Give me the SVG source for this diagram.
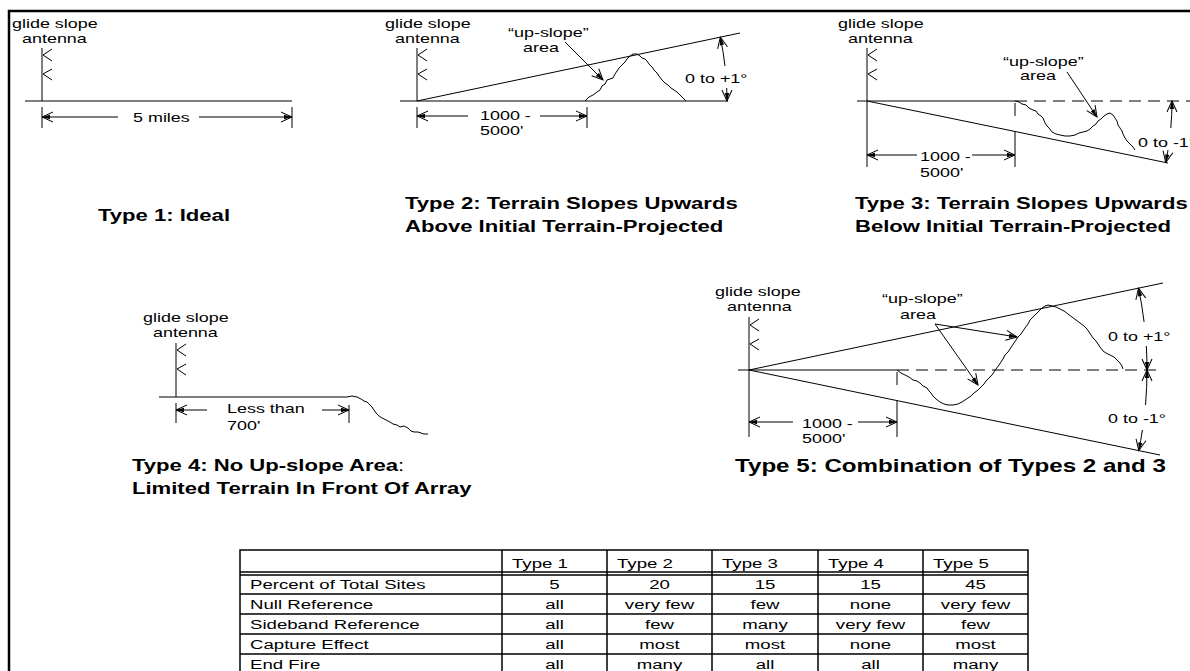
<svg xmlns="http://www.w3.org/2000/svg" width="1190" height="671" viewBox="0 0 1190 671">
<style>
.ln{stroke:#000;stroke-width:1;fill:none}
.fr{stroke:#000;stroke-width:2.5;fill:none}
.tb{stroke:#000;stroke-width:1.5;fill:none}
.ds{stroke-dasharray:12 7}
.t{font-family:"Liberation Sans",Arial,Helvetica,sans-serif;font-size:13px;fill:#000}
.tt{font-family:"Liberation Sans",Arial,Helvetica,sans-serif;font-size:13.5px;fill:#000}
.b{font-family:"Liberation Sans",Arial,Helvetica,sans-serif;font-size:16px;font-weight:bold;fill:#000}
.m{text-anchor:middle}
.ar{stroke:#000;stroke-width:1;fill:none;marker-end:url(#ah)}
.dim{stroke:#000;stroke-width:1;fill:none}
</style>
<defs>
<marker id="ah" markerUnits="userSpaceOnUse" orient="auto-start-reverse" overflow="visible" refX="0" refY="0" markerWidth="1" markerHeight="1">
<path d="M-11,-5 L0,0 L-11,5" fill="none" stroke="#000" stroke-width="1"/>
<path d="M0,0 L-8,-2.2 L-8,2.2 Z" fill="#000"/>
</marker>
<path id="chev" d="M10,1 L1,7 L10,13 M10,21 L1,26 L10,32" fill="none" stroke="#000" stroke-width="1"/>
</defs>
<rect width="1190" height="671" fill="#fff"/>
<g id="frame">
<path class="fr" d="M9,671 V11 H1190"/>
</g>

<g id="type1">
<text class="t" transform="translate(12 28) scale(1.38 1)">glide slope</text>
<text class="t" transform="translate(22 43) scale(1.38 1)">antenna</text>
<path class="ln" d="M42,48 V101 M25,101 H292 M42,107 V128 M292,107 V128"/>
<use href="#chev" x="42" y="48"/>
<path class="dim" d="M42,117 H118" marker-start="url(#ah)"/>
<path class="dim" d="M199,117 H292" marker-end="url(#ah)"/>
<text class="t" transform="translate(133 122) scale(1.38 1)">5 miles</text>
<text class="b" transform="translate(98 221) scale(1.38 1)">Type 1: Ideal</text>
</g>

<g id="type2">
<text class="t" transform="translate(385 28) scale(1.38 1)">glide slope</text>
<text class="t" transform="translate(395 43) scale(1.38 1)">antenna</text>
<path class="ln" d="M417,48 V101 M400,101 H728 M417,101 L740,33 M417,107 V128 M587,107 V128"/>
<use href="#chev" x="417" y="48"/>
<path class="ln" d="M585,101 L589,97 L593,95 L597,92 L600,90 L602,86 L605,84 L607,80 L610,79 L613,78 L615,74 L617,71 L619,68 L622,65 L625,62 L627,59 L630,56 L633,54 L637,54 L640,56 L642,58 L645,59 L647,61 L649,64 L652,67 L654,70 L657,73 L659,76 L662,80 L665,83 L668,85 L671,88 L674,90 L677,92 L680,95 L682,97 L684,99 L686,101"/>
<text class="t" transform="translate(508 37) scale(1.38 1)">“up-slope”</text>
<text class="t" transform="translate(523 52) scale(1.38 1)">area</text>
<text class="t" transform="translate(685 83) scale(1.38 1)">0 to +1°</text>
<path class="dim" d="M417,116 H468" marker-start="url(#ah)"/>
<path class="dim" d="M540,116 H587" marker-end="url(#ah)"/>
<text class="t" transform="translate(480 120) scale(1.38 1)">1000 -</text>
<text class="t" transform="translate(480 135) scale(1.38 1)">5000'</text>
<text class="b" transform="translate(405 209) scale(1.38 1)">Type 2: Terrain Slopes Upwards</text>
<text class="b" transform="translate(405 232) scale(1.38 1)">Above Initial Terrain-Projected</text>
</g>

<g id="type3">
<text class="t" transform="translate(838 28) scale(1.38 1)">glide slope</text>
<text class="t" transform="translate(848 43) scale(1.38 1)">antenna</text>
<path class="ln" d="M867,48 V167 M857,101 H1015 M867,101 L1168,163"/>
<path class="ln ds" d="M1015,101 H1190"/>
<path class="ln" d="M1015,103 V116 M1015,132 V167"/>
<use href="#chev" x="867" y="48"/>
<path class="ln" d="M1015,101 L1019,102 L1022,104 L1026,105 L1029,108 L1033,110 L1036,111 L1038,114 L1041,116 L1043,118 L1045,123 L1047,126 L1049,128 L1052,132 L1056,134 L1060,135 L1065,136 L1070,136 L1075,135 L1079,133 L1083,132 L1087,131 L1090,129 L1093,126 L1096,124 L1098,121 L1101,119 L1104,116 L1107,114 L1110,113 L1113,115 L1115,118 L1117,121 L1118,125 L1120,128 L1122,131 L1123,134 L1125,138 L1127,141 L1130,144 L1133,147 L1135,150"/>
<text class="t" transform="translate(1003 66) scale(1.38 1)">“up-slope”</text>
<text class="t" transform="translate(1020 80) scale(1.38 1)">area</text>
<text class="t" transform="translate(1138 147) scale(1.38 1)">0 to -1°</text>
<path class="dim" d="M867,155 H917" marker-start="url(#ah)"/>
<path class="dim" d="M972,155 H1015" marker-end="url(#ah)"/>
<text class="t" transform="translate(920 161) scale(1.38 1)">1000 -</text>
<text class="t" transform="translate(920 177) scale(1.38 1)">5000'</text>
<text class="b" transform="translate(855 209) scale(1.38 1)">Type 3: Terrain Slopes Upwards</text>
<text class="b" transform="translate(855 232) scale(1.38 1)">Below Initial Terrain-Projected</text>
</g>

<g id="type4">
<text class="t" transform="translate(143 322) scale(1.38 1)">glide slope</text>
<text class="t" transform="translate(153 337) scale(1.38 1)">antenna</text>
<path class="ln" d="M176,343 V397 M159,397 H347 M176,403 V423 M349,405 V423"/>
<use href="#chev" x="176" y="343"/>
<path class="ln" d="M347,397 L352,396 L357,397 L361,399 L364,401 L367,402 L370,405 L372,407 L374,410 L376,413 L379,416 L382,418 L386,420 L390,422 L393,424 L397,425 L400,427 L404,426 L408,428 L411,431 L414,432 L418,432 L421,433 L424,434 L428,434"/>
<path class="dim" d="M176,410 H207" marker-start="url(#ah)"/>
<path class="dim" d="M322,410 H349" marker-end="url(#ah)"/>
<text class="t" transform="translate(227 413) scale(1.38 1)">Less than</text>
<text class="t" transform="translate(227 430) scale(1.38 1)">700'</text>
<text class="b" transform="translate(132 471) scale(1.38 1)">Type 4: No Up-slope Area<tspan font-weight="normal">:</tspan></text>
<text class="b" transform="translate(132 494) scale(1.38 1)">Limited Terrain In Front Of Array</text>
</g>

<g id="type5">
<text class="t" transform="translate(715 296) scale(1.38 1)">glide slope</text>
<text class="t" transform="translate(727 311) scale(1.38 1)">antenna</text>
<path class="ln" d="M749,317 V437 M738,370 H897 M749,370 L1163,283 M749,370 L1160,455"/>
<path class="ln ds" d="M897,370 H1160"/>
<path class="ln" d="M897,372 V385 M897,401 V437"/>
<use href="#chev" x="749" y="318"/>
<path class="ln" d="M897,370 L901,373 L905,375 L909,377 L913,380 L917,381 L920,383 L923,386 L927,388 L929,391 L931,393 L933,396 L936,399 L940,402 L944,404 L948,405 L953,405 L958,404 L962,402 L965,400 L968,398 L971,396 L974,393 L978,390 L981,387 L984,384 L986,381 L989,378 L992,375 L994,372 L996,369 L999,365 L1001,362 L1003,359 L1005,355 L1008,352 L1010,349 L1012,346 L1014,343 L1016,340 L1018,337 L1021,334 L1023,331 L1025,328 L1028,324 L1030,320 L1033,317 L1036,314 L1039,311 L1042,308 L1045,306 L1048,305 L1052,306 L1056,307 L1060,309 L1064,311 L1068,314 L1072,317 L1076,320 L1080,323 L1084,326 L1087,329 L1089,332 L1091,335 L1093,338 L1096,341 L1098,344 L1100,347 L1103,351 L1106,353 L1110,355 L1114,357 L1117,360 L1120,363 L1122,366 L1123,369"/>
<text class="t" transform="translate(882 303) scale(1.38 1)">“up-slope”</text>
<text class="t" transform="translate(900 319) scale(1.38 1)">area</text>
<text class="t" transform="translate(1108 341) scale(1.38 1)">0 to +1°</text>
<text class="t" transform="translate(1108 423) scale(1.38 1)">0 to -1°</text>
<path class="dim" d="M749,422 H793" marker-start="url(#ah)"/>
<path class="dim" d="M858,422 H897" marker-end="url(#ah)"/>
<text class="t" transform="translate(802 428) scale(1.38 1)">1000 -</text>
<text class="t" transform="translate(802 443) scale(1.38 1)">5000'</text>
<text class="b" transform="translate(735 472) scale(1.38 1)" style="font-size:17.5px">Type 5: Combination of Types 2 and 3</text>
</g>

<g id="connectors">
<path class="ar" d="M565,42 L603,80"/>
<path class="ar" d="M725,66 A310,310 0 0 0 720.3,37.1"/>
<path class="ar" d="M726.7,88 A310,310 0 0 1 727,101"/>
<path class="ar" d="M1067,72 L1097,117"/>
<path class="ar" d="M1170.8,128 A305,305 0 0 0 1172,101"/>
<path class="ar" d="M1168,150 A305,305 0 0 1 1165.7,162.5"/>
<path class="ar" d="M935,324 L1017,337"/>
<path class="ar" d="M935,324 L978,385"/>
<path class="ar" d="M1144.1,322 A398,398 0 0 0 1138.5,288.1"/>
<path class="ar" d="M1146.3,346 A398,398 0 0 1 1147,370"/>
<path class="ar" d="M1145.5,405 A398,398 0 0 0 1147,370"/>
<path class="ar" d="M1142.4,430 A398,398 0 0 1 1138.8,450.6"/>
</g>

<g id="table">
<path class="tb" d="M240,680 V550 H1028 V680 M502,550 V680 M607,550 V680 M712,550 V680 M818,550 V680 M923,550 V680"/>
<path class="tb" d="M240,572 H1028 M240,575 H1028 M240,594 H1028 M240,614 H1028 M240,634 H1028 M240,654 H1028"/>
<text class="tt" transform="translate(512 568) scale(1.38 1)">Type 1</text>
<text class="tt" transform="translate(617 568) scale(1.38 1)">Type 2</text>
<text class="tt" transform="translate(722 568) scale(1.38 1)">Type 3</text>
<text class="tt" transform="translate(828 568) scale(1.38 1)">Type 4</text>
<text class="tt" transform="translate(933 568) scale(1.38 1)">Type 5</text>
<text class="tt" transform="translate(250 589) scale(1.38 1)">Percent of Total Sites</text>
<text class="tt" transform="translate(250 609) scale(1.38 1)">Null Reference</text>
<text class="tt" transform="translate(250 629) scale(1.38 1)">Sideband Reference</text>
<text class="tt" transform="translate(250 649) scale(1.38 1)">Capture Effect</text>
<text class="tt" transform="translate(250 669) scale(1.38 1)">End Fire</text>
<g class="tt m">
<text transform="translate(554.5 589) scale(1.38 1)">5</text>
<text transform="translate(659.5 589) scale(1.38 1)">20</text>
<text transform="translate(765 589) scale(1.38 1)">15</text>
<text transform="translate(870.5 589) scale(1.38 1)">15</text>
<text transform="translate(975.5 589) scale(1.38 1)">45</text>
<text transform="translate(554.5 609) scale(1.38 1)">all</text>
<text transform="translate(659.5 609) scale(1.38 1)">very few</text>
<text transform="translate(765 609) scale(1.38 1)">few</text>
<text transform="translate(870.5 609) scale(1.38 1)">none</text>
<text transform="translate(975.5 609) scale(1.38 1)">very few</text>
<text transform="translate(554.5 629) scale(1.38 1)">all</text>
<text transform="translate(659.5 629) scale(1.38 1)">few</text>
<text transform="translate(765 629) scale(1.38 1)">many</text>
<text transform="translate(870.5 629) scale(1.38 1)">very few</text>
<text transform="translate(975.5 629) scale(1.38 1)">few</text>
<text transform="translate(554.5 649) scale(1.38 1)">all</text>
<text transform="translate(659.5 649) scale(1.38 1)">most</text>
<text transform="translate(765 649) scale(1.38 1)">most</text>
<text transform="translate(870.5 649) scale(1.38 1)">none</text>
<text transform="translate(975.5 649) scale(1.38 1)">most</text>
<text transform="translate(554.5 669) scale(1.38 1)">all</text>
<text transform="translate(659.5 669) scale(1.38 1)">many</text>
<text transform="translate(765 669) scale(1.38 1)">all</text>
<text transform="translate(870.5 669) scale(1.38 1)">all</text>
<text transform="translate(975.5 669) scale(1.38 1)">many</text>
</g>
</g>
</svg>
